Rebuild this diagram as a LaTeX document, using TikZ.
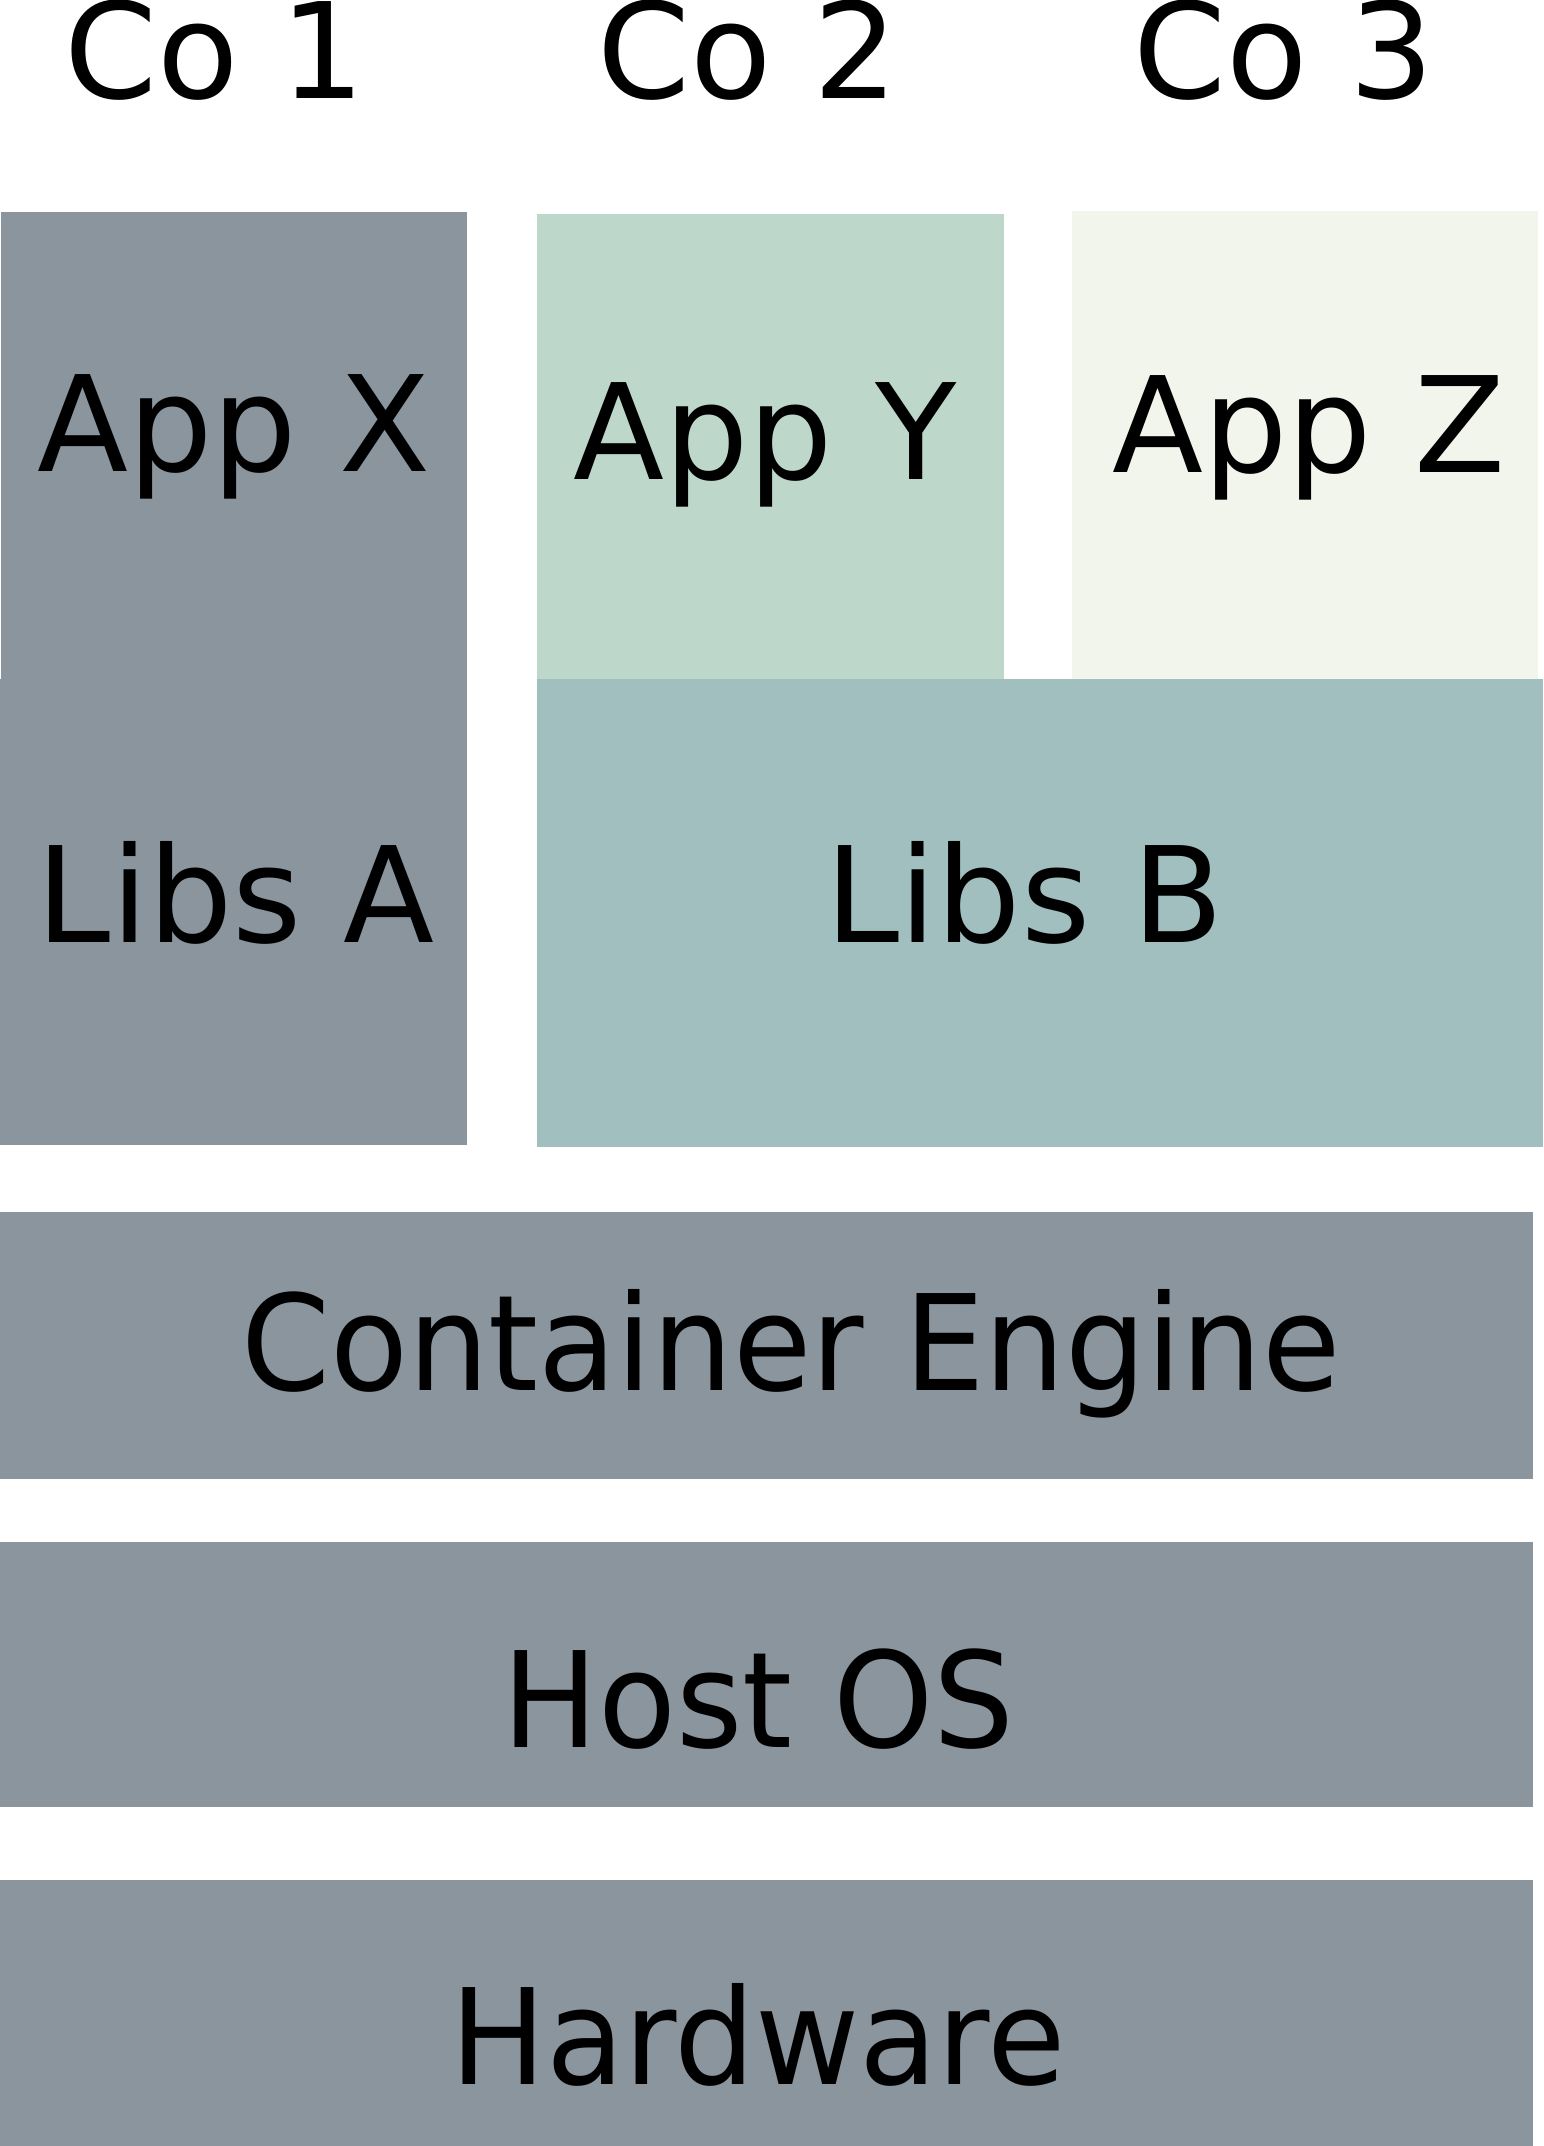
\documentclass[tikz,border=0pt]{standalone}
\usepackage{fontspec}
\setmainfont{DejaVu Sans}
\definecolor{slate}{HTML}{8A959E}
\definecolor{mint}{HTML}{BDD7CB}
\definecolor{cream}{HTML}{F2F5EC}
\definecolor{teal}{HTML}{A1BFBF}
\newcommand{\narrowtext}[1]{\scalebox{0.958}[1]{#1}}
\begin{document}
\begin{tikzpicture}[x=1pt,y=-1pt,
  box/.style={draw=none, inner sep=0pt, outer sep=0pt, anchor=north west},
  lbl/.style={inner sep=0pt, anchor=base, text=black, font=\fontsize{133}{160}\selectfont}]
\useasboundingbox (0,0) rectangle (1543,2146);
% boxes
\node[box, fill=slate, minimum width=465.5pt, minimum height=467pt] (appx) at (1.4,212.2) {};
\node[box, fill=slate, minimum width=467pt, minimum height=466pt] (libsa) at (0,679) {};
\node[box, fill=mint, minimum width=467pt, minimum height=465.4pt] (appy) at (536.7,213.6) {};
\node[box, fill=cream, minimum width=465.5pt, minimum height=468.2pt] (appz) at (1072,210.8) {};
\node[box, fill=teal, minimum width=1006.3pt, minimum height=468.3pt] (libsb) at (536.7,679) {};
\node[box, fill=slate, minimum width=1533.4pt, minimum height=267pt] (engine) at (0,1211.7) {};
\node[box, fill=slate, minimum width=1533.4pt, minimum height=265.6pt] (hostos) at (0,1541.6) {};
\node[box, fill=slate, minimum width=1533.4pt, minimum height=266.2pt] (hw) at (0,1879.8) {};
% labels
\node[lbl] (co1) at (215,99) {Co 1};
\node[lbl] (co2) at (748,99) {Co 2};
\node[lbl] (co3) at (1284,99) {Co 3};
\node[lbl] (tappx) at (234,471) {App X};
\node[lbl] (tappy) at (765,479) {App Y};
\node[lbl] (tappz) at (1309,472) {App Z};
\node[lbl] (tlibsa) at (236,942) {Libs A};
\node[lbl] (tlibsb) at (1025,942) {Libs B};
\node[lbl] (tengine) at (791,1390) {\narrowtext{Container Engine}};
\node[lbl] (thostos) at (758.6,1747) {\narrowtext{Host OS}};
\node[lbl] (thw) at (758,2084) {\narrowtext{Hardware}};
\end{tikzpicture}
\end{document}
